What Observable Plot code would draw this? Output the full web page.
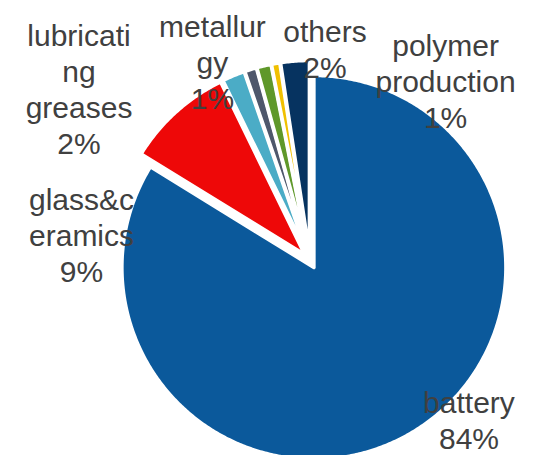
<!DOCTYPE html>
<html><head><meta charset="utf-8">
<script src="https://cdn.jsdelivr.net/npm/d3@7"></script>
<script src="https://cdn.jsdelivr.net/npm/@observablehq/plot@0.6"></script>
<style>html,body{margin:0;padding:0;background:#fff;overflow:hidden}</style>
</head><body><div id="chart"></div>
<script>
// ---- data ----
const categories = ["battery", "glass&ceramics", "lubricating greases", "metallurgy", "polymer production", "unlabeled", "others"];
const shares = [83.7, 9.0, 1.9, 1.0, 1.2, 0.7, 2.4];
const colors = ["#0b599b", "#ee0808", "#4bacc6", "#4e576b", "#5f982a", "#f0c000", "#063360"];
// wrapped label text as shown in the chart (empty = no label)
const labelLines = [["battery"], ["glass&c", "eramics"], ["lubricati", "ng", "greases"], ["metallur", "gy"], ["polymer", "production"], [], ["others"]];
// label anchors, in pie-radius units relative to the pie centre
const labelAnchors = [[0.828, -0.826], [-1.190, 0.133], [-1.203, 0.898], [-0.508, 1.036], [0.706, 0.9375], null, [0.078, 1.104]];

// ---- layout ----
const W = 539, H = 455, cx = 309.5, cy = 260, R = 192, explode = 8 / 192;

const total = d3.sum(shares);
const arcs = d3.pie().sort(null).value(d => d)(shares);

const points = [];
arcs.forEach((a, i) => {
  const mid = (a.startAngle + a.endAngle) / 2;
  const ox = explode * Math.sin(mid), oy = explode * Math.cos(mid);
  const name = categories[i];
  points.push({name, x: ox, y: oy});
  const n = Math.max(2, Math.ceil((a.endAngle - a.startAngle) * 180 / Math.PI * 2));
  for (let k = 0; k <= n; k++) {
    const t = a.startAngle + (a.endAngle - a.startAngle) * k / n;
    points.push({name, x: ox + Math.sin(t), y: oy + Math.cos(t)});
  }
  points.push({name, x: ox, y: oy});
});

const labels = [];
categories.forEach((c, i) => {
  if (!labelAnchors[i]) return;
  const pct = Math.round(shares[i] / total * 100) + "%";
  labels.push({x: labelAnchors[i][0], y: labelAnchors[i][1], text: [...labelLines[i], pct].join("\n")});
});

const chart = Plot.plot({
  width: W, height: H, margin: 0,
  style: {background: "#fff"},
  x: {domain: [-cx / R, (W - cx) / R], axis: null},
  y: {domain: [(cy - H) / R, cy / R], axis: null},
  color: {type: "ordinal", domain: categories, range: colors},
  marks: [
    Plot.line(points, {x: "x", y: "y", z: "name", fill: "name", stroke: "#fff", strokeWidth: 3.5, strokeLinejoin: "round"}),
    Plot.text(labels, {x: "x", y: "y", text: "text", fontSize: 30, lineHeight: 1.2, fill: "#404040",
      fontFamily: "'Liberation Sans', Arial, sans-serif", textAnchor: "middle", lineAnchor: "middle"})
  ]
});
document.getElementById("chart").appendChild(chart);
</script>
</body></html>
